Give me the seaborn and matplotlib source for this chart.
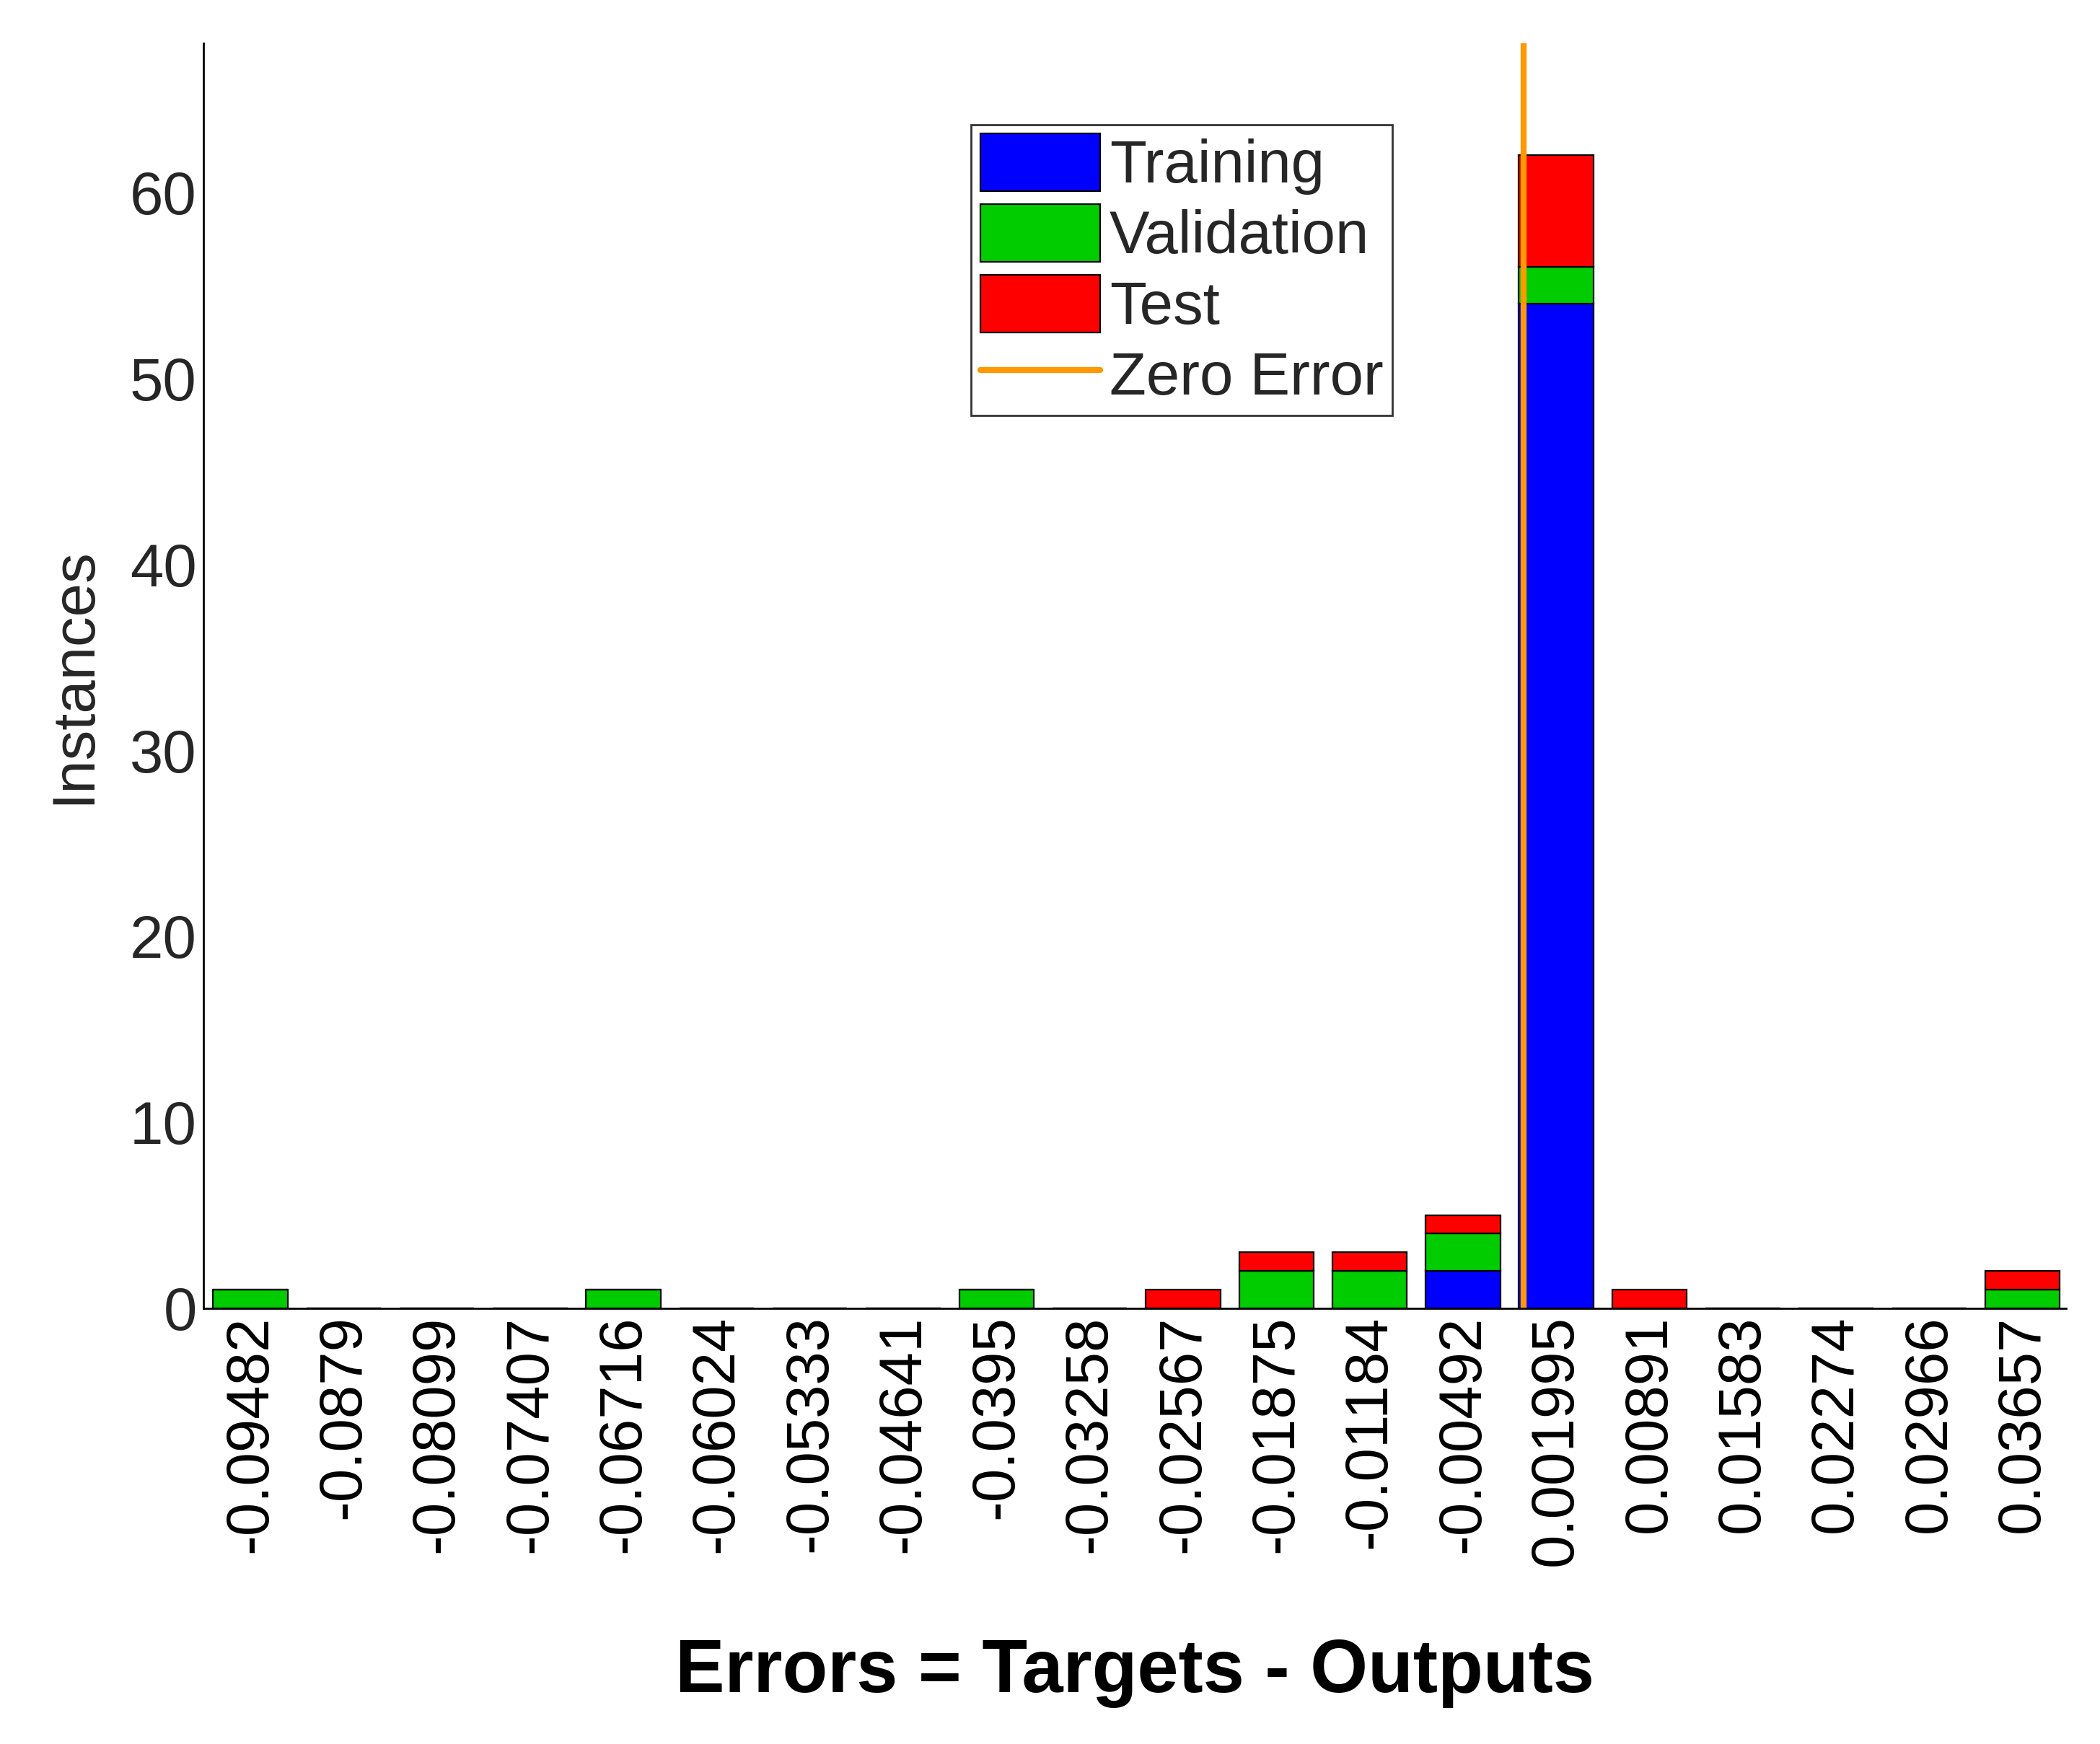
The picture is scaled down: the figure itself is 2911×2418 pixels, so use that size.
import matplotlib
matplotlib.use("Agg")
import matplotlib.pyplot as plt
import numpy as np
import seaborn as sns
import pandas as pd

# bin centres and counts per subset
bins = ["-0.09482", "-0.0879", "-0.08099", "-0.07407", "-0.06716", "-0.06024", "-0.05333",
        "-0.04641", "-0.0395", "-0.03258", "-0.02567", "-0.01875", "-0.01184", "-0.00492",
        "0.001995", "0.00891", "0.01583", "0.02274", "0.02966", "0.03657"]
training = [0, 0, 0, 0, 0, 0, 0, 0, 0, 0, 0, 0, 0, 2, 54, 0, 0, 0, 0, 0]
validation = [1, 0, 0, 0, 1, 0, 0, 0, 1, 0, 0, 2, 2, 2, 2, 0, 0, 0, 0, 1]
test = [0, 0, 0, 0, 0, 0, 0, 0, 0, 0, 1, 1, 1, 1, 6, 1, 0, 0, 0, 1]
zero_error = -0.0004

sns.set_style("white")
plt.rcParams["font.family"] = ["Liberation Sans", "DejaVu Sans"]

df = pd.DataFrame({"x": [float(b) for b in bins], "Training": training,
                   "Validation": validation, "Test": test})
w = (df.x.iloc[-1] - df.x.iloc[0]) / (len(df) - 1)

fig = plt.figure(figsize=(14.555, 12.09), dpi=200)
ax = fig.add_axes([0.097, 0.25, 0.887, 0.725])

tr = np.array(training)
va = np.array(validation)
te = np.array(test)
kw = dict(width=0.8 * w, edgecolor="black", linewidth=0.8)
ax.bar(df.x, tr, color=(0, 0, 1), label="Training", **kw)
ax.bar(df.x, va, bottom=tr, color=(0, 0.8, 0), label="Validation", **kw)
ax.bar(df.x, te, bottom=tr + va, color=(1, 0, 0), label="Test", **kw)
ax.axvline(zero_error, color=(1, 0.6, 0), linewidth=3, label="Zero Error")

ax.set_xlim(df.x.iloc[0] - 0.5 * w, df.x.iloc[-1] + 0.47 * w)
ax.set_ylim(0, 68)
ax.set_xticks(df.x)
ax.set_xticklabels(bins, rotation=90, ha="center", va="top", fontsize=30, color="black")
ax.set_yticks([0, 10, 20, 30, 40, 50, 60])
ax.tick_params(axis="y", labelsize=30, labelcolor="#262626")
ax.tick_params(direction="in", length=0)
ax.set_ylabel("Instances", fontsize=30, color="#262626", labelpad=14)
ax.set_xlabel("Errors = Targets - Outputs", fontsize=37, fontweight="bold", labelpad=36,
              color="black")
for s in ["top", "right"]:
    ax.spines[s].set_visible(False)
for s in ["left", "bottom"]:
    ax.spines[s].set_color("black")
    ax.spines[s].set_linewidth(1)

h, l = ax.get_legend_handles_labels()
order = [l.index(n) for n in ["Training", "Validation", "Test", "Zero Error"]]
leg = ax.legend([h[i] for i in order], [l[i] for i in order],
                loc="upper left", bbox_to_anchor=(0.412, 0.936), fontsize=30,
                frameon=True, fancybox=False, edgecolor="black", handlelength=2.0,
                handleheight=1.1, borderpad=0.15, labelspacing=0.15, handletextpad=0.15,
                borderaxespad=0)
leg.get_frame().set_linewidth(1)

fig.savefig("out.png", dpi=200, facecolor="white")
